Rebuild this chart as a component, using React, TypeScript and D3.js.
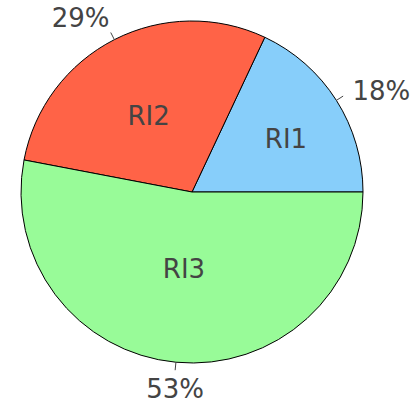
import * as d3 from "d3";
import React from "react";

const labels = ["RI1", "RI2", "RI3"];
const values = [18, 29, 53];
const colors = ["#87CEFA", "#FF6347", "#98FB98"];

const width = 415;
const height = 402;
const cx = 192;
const cy = 192;
const radius = 171;
const fontSize = 26;
const textColor = "#444";

const App = () => {
  const total = d3.sum(values);
  // start at 3 o'clock, go counterclockwise
  const pie = d3
    .pie<number>()
    .sort(null)
    .startAngle(Math.PI / 2)
    .endAngle(Math.PI / 2 - 2 * Math.PI);
  const arcs = pie(values);
  const arc = d3.arc<d3.PieArcDatum<number>>().innerRadius(0).outerRadius(radius);
  const pct = d3.format(".0%");

  return (
    <svg
      width={width}
      height={height}
      style={{ position: "absolute", left: 0, top: 0, background: "#fff" }}
      fontFamily="'DejaVu Sans', Verdana, sans-serif"
      fontSize={fontSize}
    >
      <g transform={`translate(${cx},${cy})`}>
        {arcs.map((d, i) => (
          <path key={labels[i]} d={arc(d) || ""} fill={colors[i]} stroke="#000" strokeWidth={1} />
        ))}
        {arcs.map((d, i) => {
          const a = (d.startAngle + d.endAngle) / 2;
          const ux = Math.sin(a);
          const uy = -Math.cos(a);
          // inside label, like plotly's inscribed-circle placement
          const half = Math.PI * Math.min(d.value / total, 0.5);
          const rIns = Math.min(1 / (1 + 1 / Math.sin(half)), 0.5);
          const rho = radius * (1 - rIns);
          return (
            <text
              key={labels[i]}
              x={ux * rho}
              y={uy * rho * 0.9}
              dy="0.36em"
              textAnchor="middle"
              fill={textColor}
            >
              {labels[i]}
            </text>
          );
        })}
        {arcs.map((d, i) => {
          const a = (d.startAngle + d.endAngle) / 2;
          const ux = Math.sin(a);
          const uy = -Math.cos(a);
          const p0 = [ux * radius, uy * radius];
          const p1 = [ux * (radius + 8), uy * (radius + 8)];
          const c = ux;
          const s = -uy;
          const anchor = Math.abs(c) > 0.3 ? (c > 0 ? "start" : "end") : "middle";
          const gap = 16 * c * c - 2;
          const tx = p1[0] + (anchor === "start" ? gap : anchor === "end" ? -gap : 0);
          const ty = p1[1] - s * Math.abs(s) * 19;
          return (
            <g key={labels[i]}>
              <line x1={p0[0]} y1={p0[1]} x2={p1[0]} y2={p1[1]} stroke={textColor} strokeWidth={1} />
              <text x={tx} y={ty} dy="0.36em" textAnchor={anchor} fill={textColor}>
                {pct(d.value / total)}
              </text>
            </g>
          );
        })}
      </g>
    </svg>
  );
};

export default App;
